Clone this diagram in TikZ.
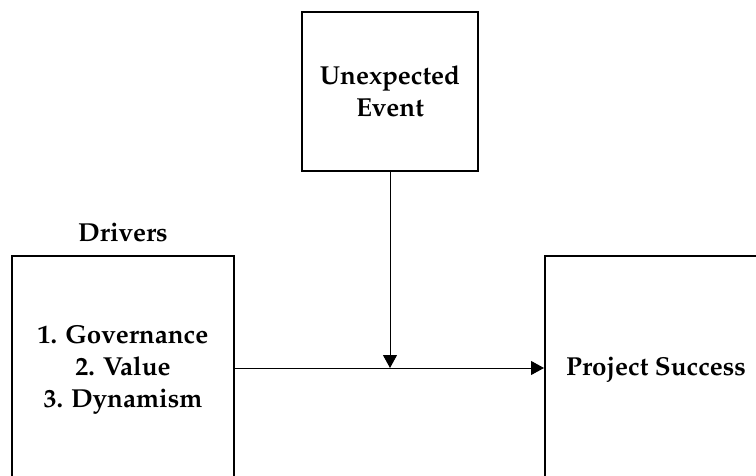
\documentclass[tikz,border=0pt]{standalone}
\usepackage[T1]{fontenc}
\usepackage{mathpazo}
\usetikzlibrary{arrows.meta}
\tikzset{
  block/.style={draw,line width=1pt,align=center,inner sep=2pt,
    font=\bfseries\fontsize{13}{16}\selectfont},
  label text/.style={font=\bfseries\fontsize{13}{16}\selectfont},
  link/.style={line width=0.5pt,-{Triangle[length=6.5pt,width=7pt]}}
}
\begin{document}
\begin{tikzpicture}[x=0.5pt,y=-0.5pt]
  \useasboundingbox (0,0) rectangle (756,476);

  % boxes
  \node[block,minimum width=88pt,minimum height=79.5pt] (event) at (390,91.5)
    {Unexpected\\Event};
  \node[block,minimum width=111pt,minimum height=114pt] (drivers) at (123,370)
    {1. Governance\\2. Value\\3. Dynamism};
  \node[block,minimum width=111pt,minimum height=114pt] (success) at (656,370)
    {Project Success};
  \node[label text] (driverstitle) at (123,233) {Drivers};

  % connectors
  \coordinate (meet) at (event.center |- 0,368);
  \draw[link] (drivers.east |- meet) -- (success.west |- meet);
  \draw[link] (event.south) -- (meet);
\end{tikzpicture}
\end{document}
